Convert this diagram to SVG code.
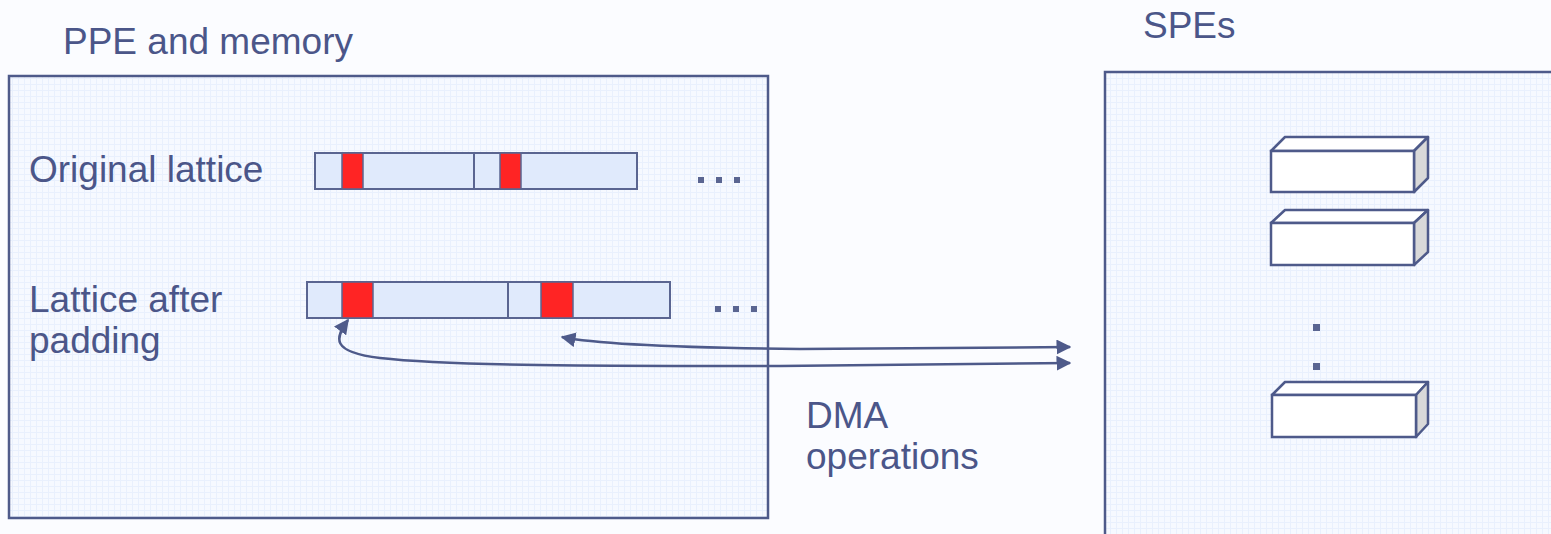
<svg xmlns="http://www.w3.org/2000/svg" width="1551" height="534" viewBox="0 0 1551 534">
  <style>
    .lbl { font-family: "Liberation Sans", Arial, sans-serif; font-size: 37px; fill: #4b5689; }
    .panel { fill: url(#grid); stroke: #4e5a8a; stroke-width: 2.5; }
    .bar { fill: #e0eafc; stroke: #5a6591; stroke-width: 2; }
    .hot { fill: #ff2424; stroke: #5a6591; stroke-width: 1.5; }
    .dot { fill: #5a6591; }
    .box-front { fill: #ffffff; stroke: #4e5a8a; stroke-width: 2.5; }
    .box-top { fill: #ffffff; stroke: #4e5a8a; stroke-width: 2.5; stroke-linejoin: round; }
    .box-side { fill: #d9d9d9; stroke: #4e5a8a; stroke-width: 2.5; stroke-linejoin: round; }
    .link { fill: none; stroke: #4e5a8a; stroke-width: 2.5; }
  </style>
  <defs>
    <pattern id="grid" width="6" height="6" patternUnits="userSpaceOnUse">
      <rect width="6" height="6" fill="#f6f9ff"/>
      <path d="M0 0.5 H6 M0.5 0 V6" stroke="#e9f0fd" stroke-width="1"/>
    </pattern>
    <marker id="head" viewBox="0 0 10 10" refX="9" refY="5" markerWidth="6" markerHeight="6" orient="auto-start-reverse" markerUnits="strokeWidth">
      <path d="M0 0 L10 5 L0 10 Z" fill="#4e5a8a"/>
    </marker>
  </defs>

  <rect width="1551" height="534" fill="#fbfcff"/>

  <!-- PPE side -->
  <g id="ppe">
    <rect class="panel" x="9" y="76" width="759" height="442"/>
    <text class="lbl" x="63" y="54">PPE and memory</text>
  </g>

  <g id="original-lattice">
    <text class="lbl" x="29" y="182">Original lattice</text>
    <rect class="bar" x="315" y="153" width="322" height="36"/>
    <line class="bar" x1="474" y1="153" x2="474" y2="189"/>
    <rect class="hot" x="342" y="153" width="21" height="36"/>
    <rect class="hot" x="500" y="153" width="21" height="36"/>
    <rect class="dot" x="698" y="177" width="6" height="6"/>
    <rect class="dot" x="716" y="177" width="6" height="6"/>
    <rect class="dot" x="734" y="177" width="6" height="6"/>
  </g>

  <g id="padded-lattice">
    <text class="lbl" x="29" y="312">Lattice after</text>
    <text class="lbl" x="29" y="353">padding</text>
    <rect class="bar" x="307" y="282" width="363" height="36"/>
    <line class="bar" x1="508" y1="282" x2="508" y2="318"/>
    <rect class="hot" x="342" y="282" width="31" height="36"/>
    <rect class="hot" x="541" y="282" width="32" height="36"/>
    <rect class="dot" x="715" y="306" width="6" height="6"/>
    <rect class="dot" x="733" y="306" width="6" height="6"/>
    <rect class="dot" x="751" y="306" width="6" height="6"/>
  </g>

  <!-- SPE side -->
  <g id="spes">
    <rect class="panel" x="1105" y="72" width="480" height="500" stroke-width="3"/>
    <text class="lbl" x="1143" y="38">SPEs</text>
  </g>

  <g id="spe-1">
    <polygon class="box-top" points="1271,151 1285,137 1428,137 1414,151"/>
    <polygon class="box-side" points="1414,151 1428,137 1428,178 1414,192"/>
    <rect class="box-front" x="1271" y="151" width="143" height="41"/>
  </g>
  <g id="spe-2">
    <polygon class="box-top" points="1271,223 1285,210 1428,210 1414,223"/>
    <polygon class="box-side" points="1414,223 1428,210 1428,252 1414,265"/>
    <rect class="box-front" x="1271" y="223" width="143" height="42"/>
  </g>
  <g id="spe-gap">
    <rect class="dot" x="1313" y="324" width="7" height="7"/>
    <rect class="dot" x="1313" y="363" width="7" height="7"/>
  </g>
  <g id="spe-n">
    <polygon class="box-top" points="1272,395 1285,382 1428,382 1416,395"/>
    <polygon class="box-side" points="1416,395 1428,382 1428,424 1416,437"/>
    <rect class="box-front" x="1272" y="395" width="144" height="42"/>
  </g>

  <!-- DMA transfers -->
  <g id="connectors">
    <path class="link" d="M562,337 Q610,347 800,349 L1070,347" marker-start="url(#head)" marker-end="url(#head)"/>
    <path class="link" d="M348,320 C335,338 330,352 380,358 C450,366 600,366 780,366 L1070,363" marker-start="url(#head)" marker-end="url(#head)"/>
  </g>

  <g id="dma-label">
    <text class="lbl" x="806" y="428">DMA</text>
    <text class="lbl" x="806" y="469">operations</text>
  </g>
</svg>
